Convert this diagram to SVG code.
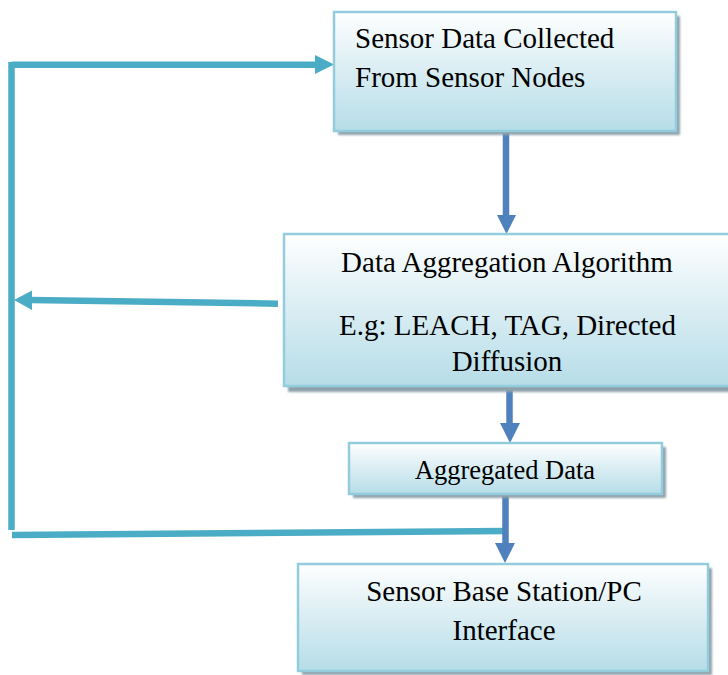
<svg xmlns="http://www.w3.org/2000/svg" width="728" height="675" viewBox="0 0 728 675">
  <defs>
    <linearGradient id="boxFill" x1="0" y1="0" x2="0" y2="1">
      <stop offset="0" stop-color="#FFFFFF"/>
      <stop offset="0.35" stop-color="#E4F2F6"/>
      <stop offset="1" stop-color="#B6DDE8"/>
    </linearGradient>
    <filter id="soft" x="-5%" y="-5%" width="110%" height="110%">
      <feGaussianBlur stdDeviation="0.8"/>
    </filter>
  </defs>
  <style>
    .shadow { fill: #8FA2AB; filter: url(#soft); }
    .box { fill: url(#boxFill); stroke: #93CDDD; stroke-width: 2.5; }
    .label { font-family: "Liberation Serif", "Times New Roman", serif; font-size: 29px; fill: #000000; }
    .mid { text-anchor: middle; }
    .flow { stroke: #4F81BD; stroke-width: 6.5; fill: none; }
    .flowHead { fill: #4F81BD; }
    .loop { stroke: #4BACC6; stroke-width: 6.5; fill: none; }
    .loopHead { fill: #4BACC6; }
  </style>

  <!-- connectors -->
  <g id="connectors">
    <!-- feedback loop on the left -->
    <line class="loop" x1="11.5" y1="62" x2="11.5" y2="530"/>
    <line class="loop" x1="11.5" y1="64.7" x2="316" y2="64.7"/>
    <polygon class="loopHead" points="315,55 334,64.5 315,74"/>
    <line class="loop" x1="278" y1="303.7" x2="30" y2="300"/>
    <polygon class="loopHead" points="32,290.5 14,300 32,310"/>
    <line class="loop" x1="12" y1="535" x2="505" y2="531"/>

    <!-- main downward flow -->
    <line class="flow" x1="506" y1="131" x2="506" y2="216"/>
    <polygon class="flowHead" points="497,215 516,215 506.5,234"/>
    <line class="flow" x1="509.5" y1="387" x2="509.5" y2="424"/>
    <polygon class="flowHead" points="500,423 520,423 510,443"/>
    <line class="flow" x1="505.5" y1="494" x2="505.5" y2="544"/>
    <polygon class="flowHead" points="495,543 515,543 505,563"/>
  </g>

  <g id="node-collect">
    <rect class="shadow" x="338" y="16" width="342" height="119"/>
    <rect class="box" x="334" y="12" width="342" height="119"/>
    <text class="label" x="355" y="48">Sensor Data Collected</text>
    <text class="label" x="355" y="87">From Sensor Nodes</text>
  </g>

  <g id="node-algorithm">
    <rect class="shadow" x="288" y="238" width="446" height="154"/>
    <rect class="box" x="284" y="234" width="446" height="152"/>
    <text class="label mid" x="507" y="272">Data Aggregation Algorithm</text>
    <text class="label mid" x="507.5" y="335">E.g: LEACH, TAG, Directed</text>
    <text class="label mid" x="507" y="371">Diffusion</text>
  </g>

  <g id="node-aggregated">
    <rect class="shadow" x="353" y="447" width="313" height="51"/>
    <rect class="box" x="349" y="443" width="313" height="51"/>
    <text class="label mid" x="505" y="479" style="font-size:26.5px">Aggregated Data</text>
  </g>

  <g id="node-basestation">
    <rect class="shadow" x="302" y="568" width="410" height="107"/>
    <rect class="box" x="298" y="564" width="410" height="107"/>
    <text class="label mid" x="504" y="601">Sensor Base Station/PC</text>
    <text class="label mid" x="504" y="640">Interface</text>
  </g>
</svg>
